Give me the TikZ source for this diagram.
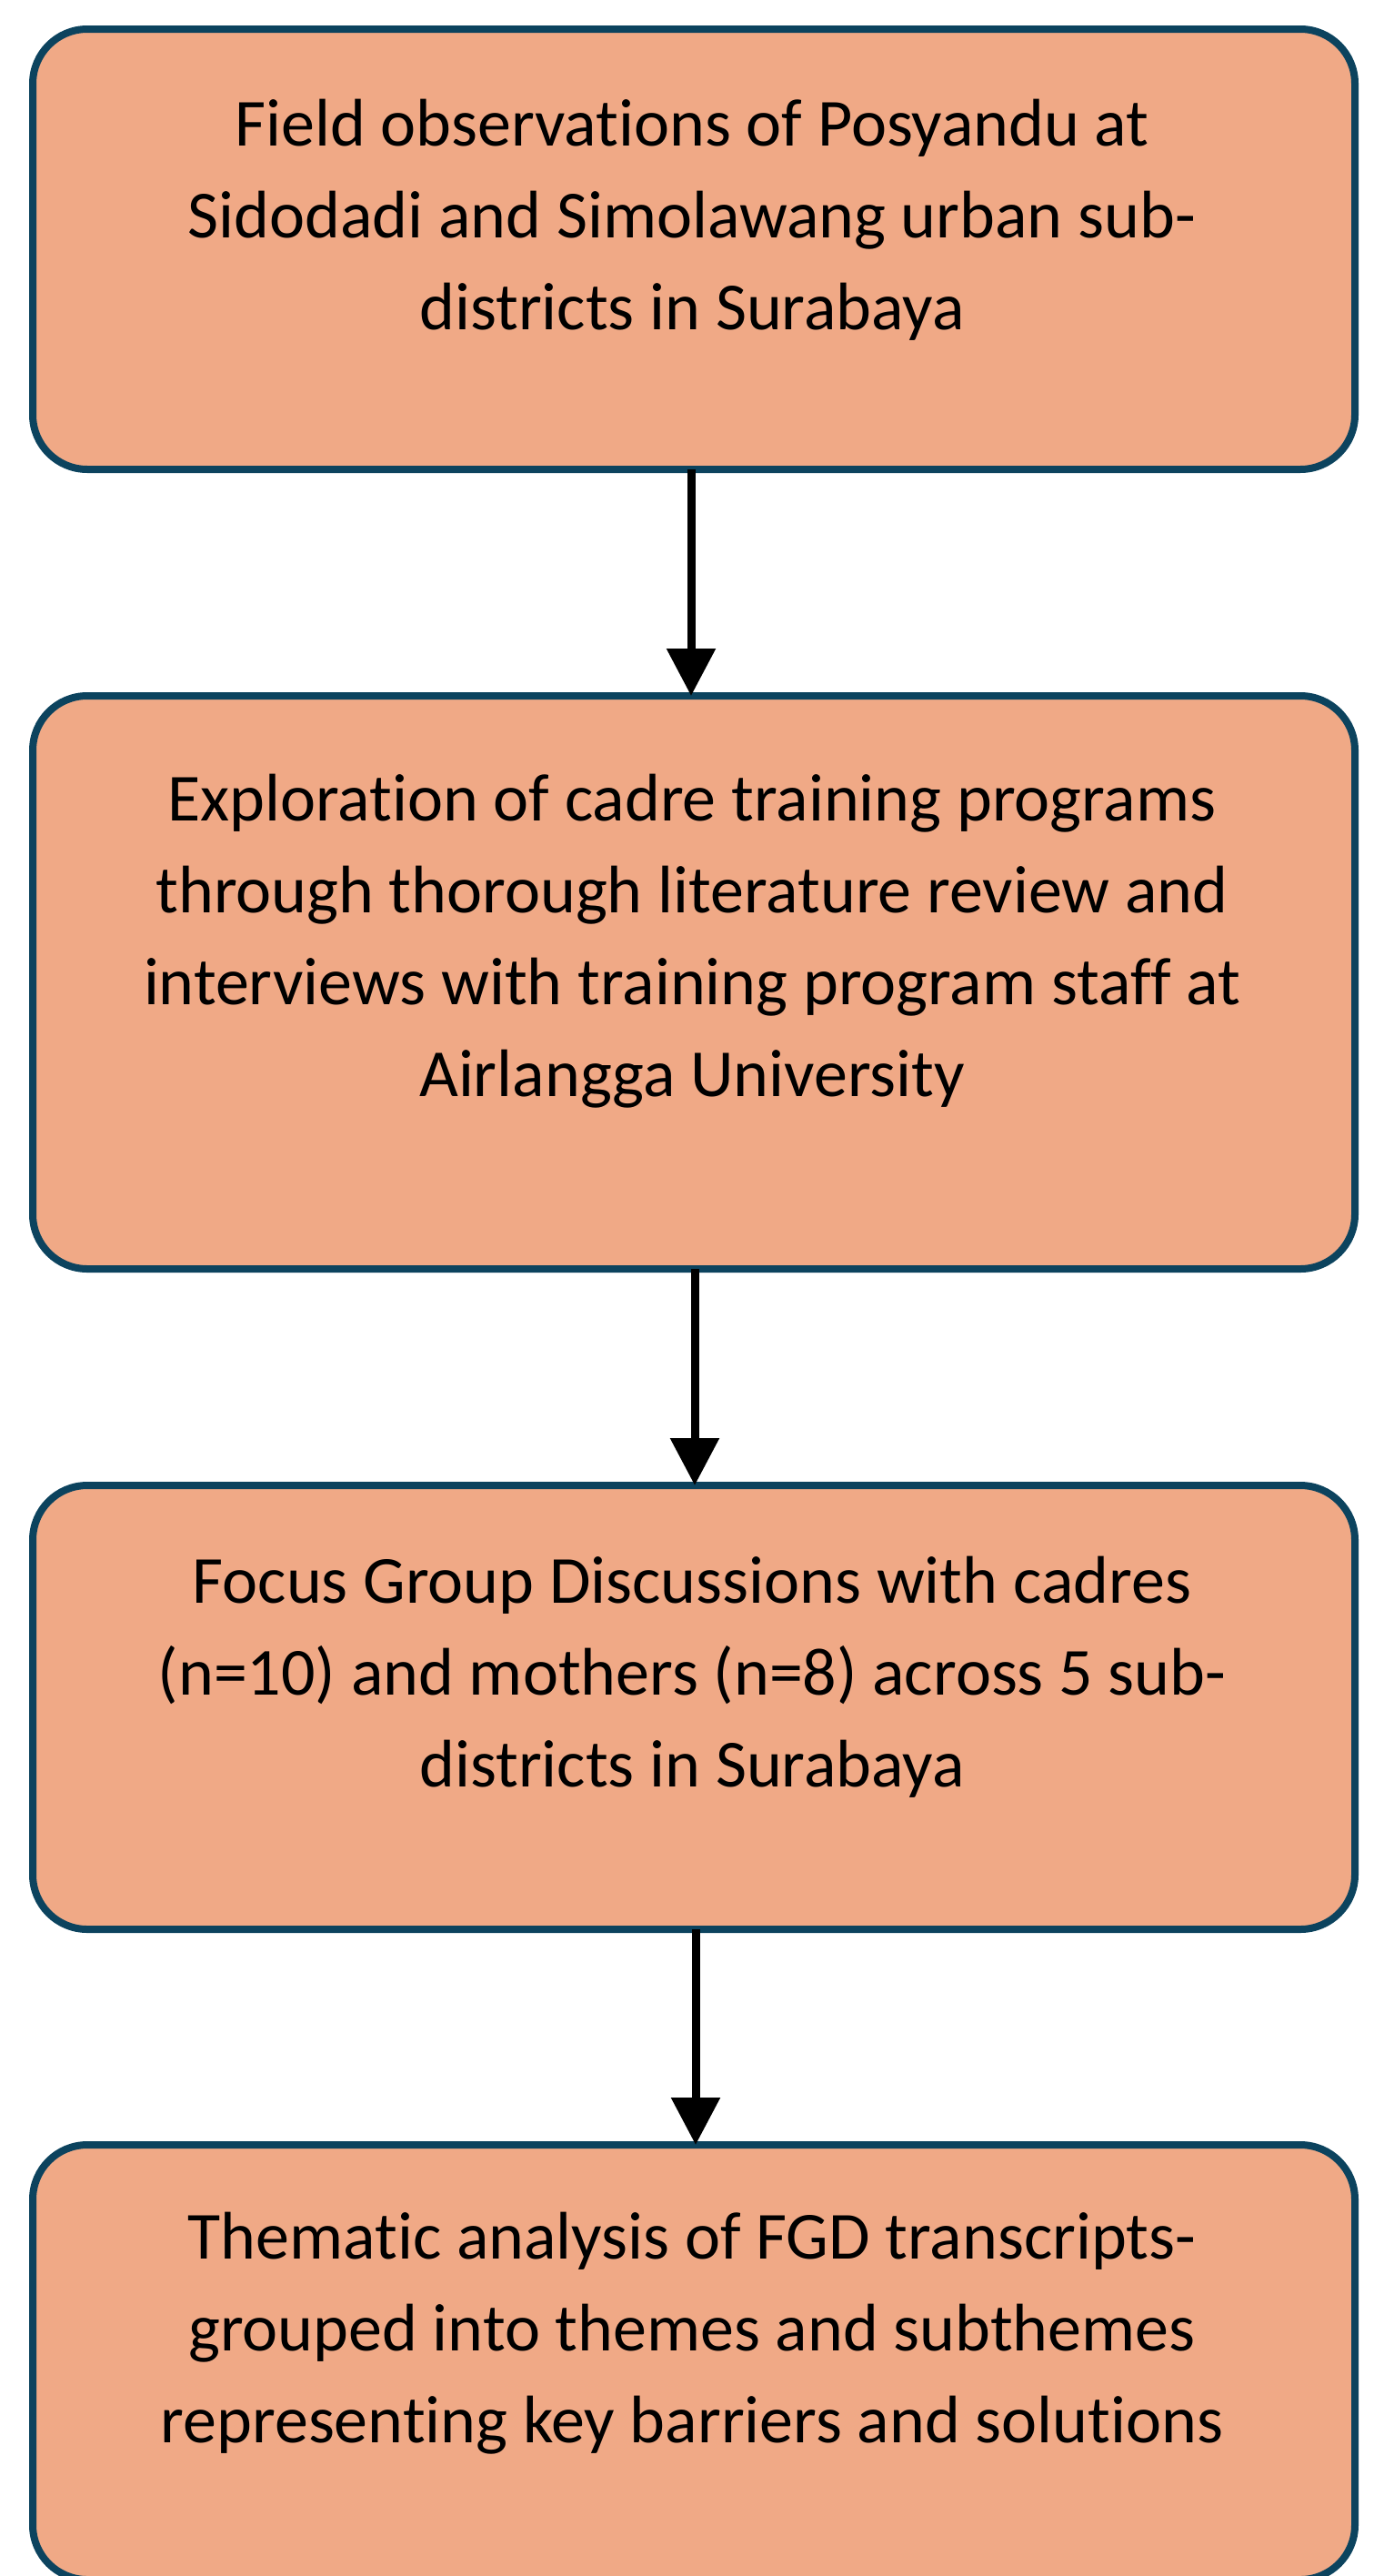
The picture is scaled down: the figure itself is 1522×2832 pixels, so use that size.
\documentclass[tikz,border=0pt]{standalone}
\usepackage{fontspec}
\setmainfont{Carlito}[Ligatures={NoCommon}]
\usetikzlibrary{arrows.meta}
\definecolor{boxfill}{RGB}{240,169,134}
\definecolor{boxline}{RGB}{12,67,94}
\begin{document}
\begin{tikzpicture}[x=1pt,y=-1pt,
  stepbox/.style={draw=boxline, fill=boxfill, line width=8pt, rounded corners=60pt,
    minimum width=1454pt, inner sep=0pt, outer sep=0pt},
  steptext/.style={anchor=base, inner sep=0pt, font=\fontsize{74pt}{101pt}\selectfont},
  flow/.style={draw=black, line width=9pt, -{Triangle[width=52pt,length=52pt]}}]
\useasboundingbox (0,0) rectangle (1522,2832);
\clip (0,0) rectangle (1522,2832);
\node[stepbox, minimum height=484pt] (b1) at (763,274) {};
\node[stepbox, minimum height=630pt] (b2) at (763,1080) {};
\node[stepbox, minimum height=488pt] (b3) at (763,1877) {};
\node[stepbox, minimum height=478pt] (b4) at (763,2597) {};
\node[steptext] (t1) at (761,160) {\begin{tabular}[t]{@{}c@{}}Field observations of Posyandu at\\ Sidodadi and Simolawang urban sub-\\ districts in Surabaya\end{tabular}};
\node[steptext] (t2) at (761,902) {\begin{tabular}[t]{@{}c@{}}Exploration of cadre training programs\\ through thorough literature review and\\ interviews with training program staff at\\ Airlangga University\end{tabular}};
\node[steptext] (t3) at (761,1762) {\begin{tabular}[t]{@{}c@{}}Focus Group Discussions with cadres\\ (n=10) and mothers (n=8) across 5 sub-\\ districts in Surabaya\end{tabular}};
\node[steptext] (t4) at (761,2483) {\begin{tabular}[t]{@{}c@{}}Thematic analysis of FGD transcripts-\\ grouped into themes and subthemes\\ representing key barriers and solutions\end{tabular}};
\draw[flow] ([xshift=-3pt]b1.south) -- ([xshift=-3pt]b2.north);
\draw[flow] ([xshift=1pt]b2.south) -- ([xshift=1pt]b3.north);
\draw[flow] ([xshift=2pt]b3.south) -- ([xshift=2pt]b4.north);
\end{tikzpicture}
\end{document}
